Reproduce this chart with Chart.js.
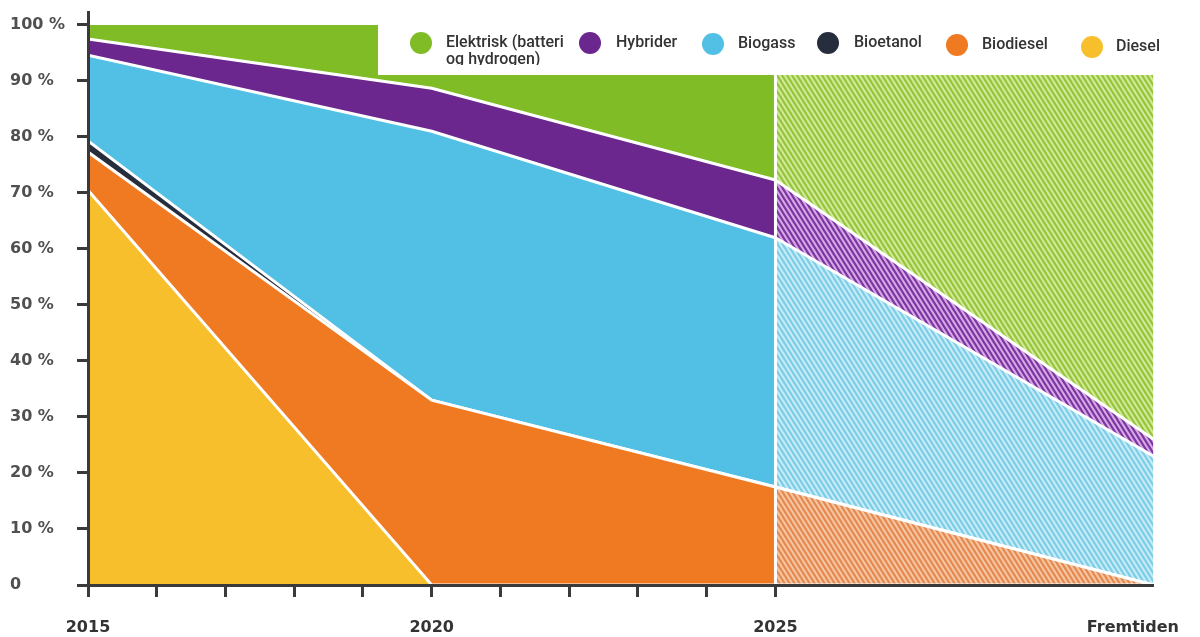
<!DOCTYPE html>
<html>
<head>
<meta charset="UTF-8">
<title>Drivstoff - andeler</title>
<script src="https://cdn.jsdelivr.net/npm/chart.js@4.4.0/dist/chart.umd.min.js"></script>
<style>
    html, body { margin: 0; padding: 0; background: #fff; }
    #wrap { position: relative; width: 1200px; height: 637px; }
</style>
</head>
<body>
<div id="wrap"><canvas id="fuelChart"></canvas></div>

<script>
// periods along the x axis, "Fremtiden" sits after 2025
const periods = ['2015', '2020', '2025', 'Fremtiden'];
const FUTURE_X = 2030.5;
const FUTURE_LABEL_X = 2030.2;

// share per fuel type (percent), stacked bottom-up
const diesel    = [70.5, 0, 0, 0];
const biodiesel = [6.8, 33, 17.5, 0];
const bioetanol = [2, 0, 0, 0];
const biogass   = [15.3, 48, 44.5, 23];
const hybrider  = [2.9, 7.7, 10.3, 3];
const elektrisk = [2.5, 11.3, 27.7, 74];

const yTicks = [0, 10, 20, 30, 40, 50, 60, 70, 80, 90, 100];
const yearTicks = [2015, 2016, 2017, 2018, 2019, 2020, 2021, 2022, 2023, 2024, 2025];
const labeledYears = [2015, 2020, 2025];

const xOf = p => p === 'Fremtiden' ? FUTURE_X : Number(p);
const pts = arr => arr.map((v, i) => ({ x: xOf(periods[i]), y: v }));

// diagonal hatch used for the "future" part
function hatch(light, dark) {
    const w = 5, h = 8;
    const c = document.createElement('canvas');
    c.width = w; c.height = h;
    const g = c.getContext('2d');
    g.fillStyle = light;
    g.fillRect(0, 0, w, h);
    g.strokeStyle = dark;
    g.lineWidth = 2.2;
    for (let k = -1; k <= 1; k++) {
        g.beginPath();
        g.moveTo(k * w - w, -h);
        g.lineTo(k * w + 2 * w, 2 * h);
        g.stroke();
    }
    return g.createPattern(c, 'repeat');
}

function series(label, data, color, pattern, fill) {
    return {
        label: label,
        data: pts(data),
        backgroundColor: color,
        borderColor: '#ffffff',
        borderWidth: 3,
        pointRadius: 0,
        tension: 0,
        fill: fill,
        legendColor: color,
        segment: {
            backgroundColor: ctx => (pattern && ctx.p0DataIndex >= 2) ? pattern : undefined
        }
    };
}

const datasets = [
    series('Diesel', diesel, '#f8bf2c', null, 'origin'),
    series('Biodiesel', biodiesel, '#ef7a22', hatch('#f6c6a2', '#e4894f'), '-1'),
    series('Bioetanol', bioetanol, '#262d3d', null, '-1'),
    series('Biogass', biogass, '#52c0e4', hatch('#c6ecf8', '#7ccde5'), '-1'),
    series('Hybrider', hybrider, '#6b278e', hatch('#d8a8e6', '#7a36a0'), '-1'),
    series('Elektrisk (batteri og hydrogen)', elektrisk, '#80bc26', hatch('#d2e99a', '#96c53c'), '-1')
];
datasets[5].borderColor = 'rgba(0,0,0,0)';

// legend box laid over the top right of the plot
const legendSpots = [
    { cx: 421, cy: 43, tx: 446 },
    { cx: 590, cy: 43, tx: 616 },
    { cx: 713, cy: 44, tx: 738 },
    { cx: 828, cy: 43, tx: 854 },
    { cx: 957, cy: 45, tx: 982 },
    { cx: 1092, cy: 47, tx: 1116 }
];

const overlay = {
    id: 'overlay',
    afterDatasetsDraw(chart) {
        const { ctx, chartArea, scales } = chart;
        const x = scales.x.getPixelForValue(2025);
        ctx.save();
        ctx.strokeStyle = '#ffffff';
        ctx.lineWidth = 3;
        ctx.beginPath();
        ctx.moveTo(x, chartArea.top);
        ctx.lineTo(x, chartArea.bottom);
        ctx.stroke();
        ctx.restore();
    },
    afterDraw(chart) {
        const ctx = chart.ctx;
        ctx.save();
        ctx.fillStyle = '#ffffff';
        ctx.fillRect(378, 0, 822, 75);
        ctx.beginPath();
        ctx.rect(378, 0, 822, 65);
        ctx.clip();
        ctx.font = '500 16px Roboto';
        ctx.textBaseline = 'middle';
        const items = chart.data.datasets.slice().reverse();
        items.forEach((ds, i) => {
            const s = legendSpots[i];
            ctx.fillStyle = ds.legendColor;
            ctx.beginPath();
            ctx.arc(s.cx, s.cy, 11, 0, Math.PI * 2);
            ctx.fill();
            ctx.fillStyle = '#333333';
            const lines = ds.label.split(' og ');
            if (lines.length > 1) {
                ctx.fillText(lines[0], s.tx, s.cy);
                ctx.fillText('og ' + lines[1], s.tx, s.cy + 17);
            } else {
                ctx.fillText(ds.label, s.tx, s.cy);
            }
        });
        ctx.restore();
    }
};

const tickFont = { family: 'DejaVu Sans', size: 16, weight: 'bold' };

new Chart(document.getElementById('fuelChart'), {
    type: 'line',
    data: { datasets: datasets },
    options: {
        responsive: true,
        maintainAspectRatio: false,
        animation: false,
        layout: { padding: { left: 10, top: 12, right: 0, bottom: 0 } },
        plugins: {
            legend: { display: false },
            tooltip: { enabled: false }
        },
        scales: {
            x: {
                type: 'linear',
                min: 2015,
                max: FUTURE_X,
                afterBuildTicks: s => {
                    s.ticks = yearTicks.concat([FUTURE_LABEL_X]).map(v => ({ value: v }));
                },
                afterFit: s => { s.height = 52; },
                grid: {
                    drawOnChartArea: false,
                    tickLength: 12,
                    tickWidth: 3,
                    tickColor: c => c.tick && c.tick.value === FUTURE_LABEL_X ? 'rgba(0,0,0,0)' : '#3a3a3a',
                    z: 1
                },
                border: { color: '#3a3a3a', width: 3, z: 1 },
                ticks: {
                    autoSkip: false,
                    maxRotation: 0,
                    padding: 21,
                    color: '#333333',
                    font: tickFont,
                    callback: v => v === FUTURE_LABEL_X ? 'Fremtiden' : (labeledYears.includes(v) ? String(v) : '')
                }
            },
            y: {
                stacked: true,
                min: 0,
                max: 102.3,
                afterBuildTicks: s => {
                    s.ticks = yTicks.map(v => ({ value: v }));
                },
                afterFit: s => {
                    s.width = 78;
                    s.paddingTop = 0;
                },
                grid: {
                    drawOnChartArea: false,
                    tickLength: 11,
                    tickWidth: 3,
                    tickColor: '#3a3a3a',
                    z: 1
                },
                border: { color: '#3a3a3a', width: 3, z: 1 },
                ticks: {
                    crossAlign: 'far',
                    padding: 9,
                    color: '#505050',
                    font: tickFont,
                    callback: v => v === 0 ? '0' : v + ' %'
                }
            }
        }
    },
    plugins: [overlay]
});
</script>
</body>
</html>
